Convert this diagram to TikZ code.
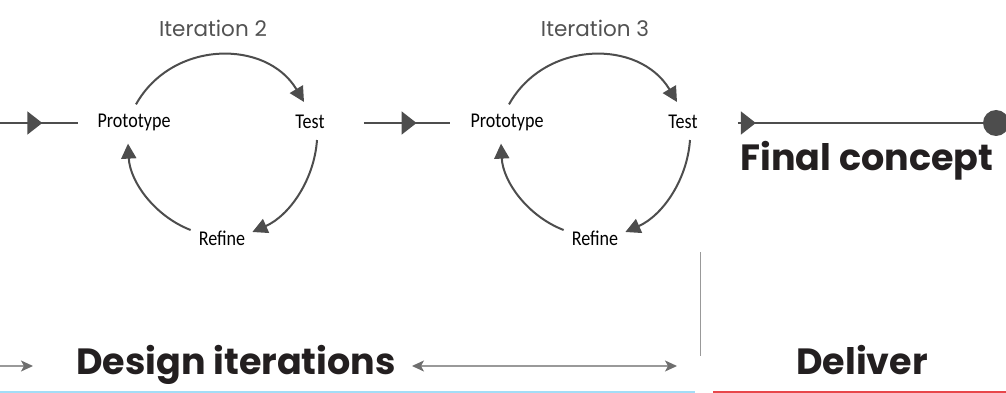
\documentclass[tikz,border=0pt]{standalone}
\usepackage{fontspec}
\usepackage{graphicx}
\setmainfont{Poppins}
\newfontfamily\handfont{Carlito}
\newfontfamily\labfont{Poppins}
\usetikzlibrary{arrows.meta,decorations.markings}
\definecolor{cyc}{HTML}{4D4D4D}
\definecolor{headc}{HTML}{231F20}
\definecolor{thin}{HTML}{999999}
\definecolor{thinhead}{HTML}{6E6E6E}
\definecolor{blueline}{HTML}{A3DDF7}
\definecolor{redline}{HTML}{E8474B}
\newcommand\hw[1]{\scalebox{0.86}[1]{#1}}
\tikzset{
  x=1pt,y=1pt,
  handlbl/.style={font=\handfont\fontsize{21}{23}\selectfont, text=black, inner sep=3pt},
  iterlbl/.style={font=\labfont\fontsize{21.5}{24}\selectfont, text=black!68},
  headlbl/.style={font=\labfont\bfseries\fontsize{36.5}{40}\selectfont, text=headc, inner sep=0pt, anchor=base},
  cycarrow/.style={draw=cyc, line width=2pt, -{Triangle[length=15pt,width=15pt]}},
  flowline/.style={draw=cyc, line width=2pt},
  midtri/.style={postaction={decorate}, decoration={markings, mark=at position #1 with {\arrow[cyc]{Triangle[length=15pt,width=23pt]}}}},
  thinarrow/.style={draw=thin, line width=1.5pt, arrows={-Stealth[length=12pt,width=11pt,inset=3pt,color=thinhead]}},
  thinboth/.style={draw=thin, line width=1.5pt, arrows={Stealth[length=12pt,width=11pt,inset=3pt,color=thinhead]-Stealth[length=12pt,width=11pt,inset=3pt,color=thinhead]}},
}
\begin{document}
\begin{tikzpicture}
\useasboundingbox (0,0) rectangle (1006,-393);
% iteration 2
\node[iterlbl] (it2) at (213,-28) {Iteration 2};
\node[handlbl] (p2) at (134,-122) {\hw{Prototype}};
\node[handlbl] (t2) at (310,-122) {\hw{Test}};
\node[handlbl] (r2) at (222,-238) {\hw{Refine}};
% iteration 3
\node[iterlbl] (it3) at (595,-28) {Iteration 3};
\node[handlbl] (p3) at (507,-122) {\hw{Prototype}};
\node[handlbl] (t3) at (683,-122) {\hw{Test}};
\node[handlbl] (r3) at (595,-238) {\hw{Refine}};
% cycle arcs
\foreach \i in {2,3}{
  \draw[cycarrow] ([shift={(2,6)}]p\i.north) to[bend left=60, looseness=1.12] ([shift={(-6,10)}]t\i.north);
  \draw[cycarrow] ([shift={(7,-8)}]t\i.south) to[bend left=31, looseness=0.92] ([shift={(4,6)}]r\i.east);
  \draw[cycarrow] ([shift={(-5,8)}]r\i.west) to[bend left=33, looseness=0.92] ([shift={(-6,-10)}]p\i.south);
}
% flow lines
\coordinate (start) at (0,-123);
\draw[flowline, midtri=0.54] (start) -- ([xshift=-16pt]p2.west |- start);
\draw[flowline, midtri=0.61] ([xshift=36pt]t2.east |- start) -- ([xshift=-17pt]p3.west |- start);
\node[circle, fill=cyc, minimum size=26pt, inner sep=0pt] (fc) at (996,-123) {};
\draw[flowline, midtri=0.07] ([xshift=37pt]t3.east |- fc) -- (fc.center);
\node[headlbl] (final) at (867,-170) {Final concept};
% bottom
\node[headlbl] (design) at (236,-374) {Design iterations};
\node[headlbl] (deliver) at (862,-374) {Deliver};
\coordinate (la) at (0,-366);
\coordinate (ra) at (677,-366);
\draw[thinarrow] (la) -- (33,-366);
\draw[thinboth] ([xshift=16pt]design.east |- la) -- (ra);
\coordinate (vt) at (700,-252);
\coordinate (vb) at (700,-356);
\draw[draw=thin, line width=1pt] (vt) -- (vb);
\coordinate (b0) at (0,-392);
\coordinate (b1) at (695,-392);
\coordinate (b2) at (713,-392);
\coordinate (b3) at (1006,-392);
\draw[blueline, line width=2pt] (b0) -- (b1);
\draw[redline, line width=2pt] (b2) -- (b3);
\end{tikzpicture}
\end{document}
